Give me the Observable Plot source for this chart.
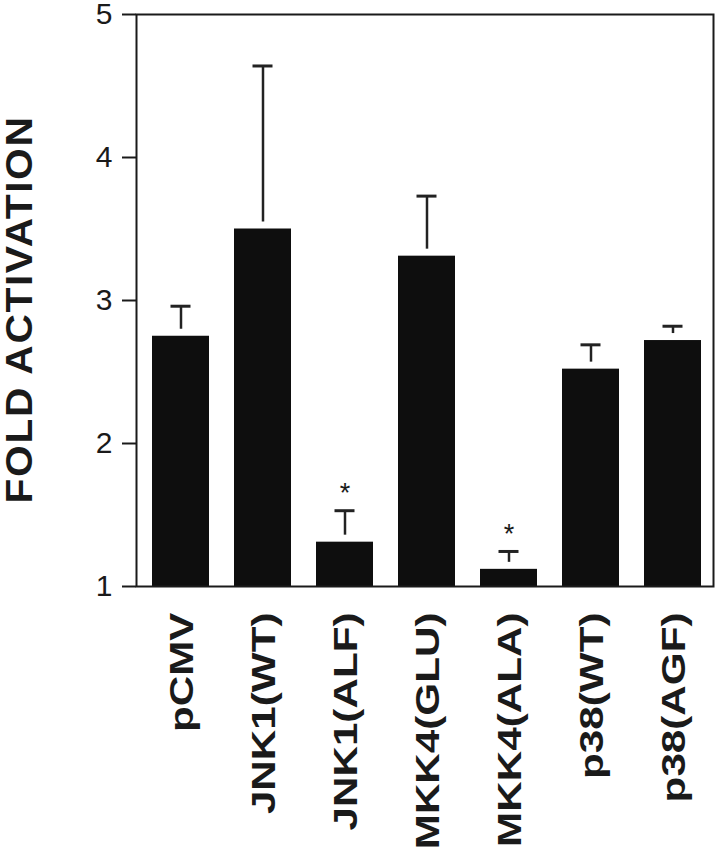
<!DOCTYPE html>
<html><head><meta charset="utf-8">
<script src="https://cdn.jsdelivr.net/npm/d3@7"></script>
<script src="https://cdn.jsdelivr.net/npm/@observablehq/plot@0.6"></script>
<style>body{margin:0;background:#fff}</style>
</head><body><div id="chart"></div>
<script>
const categories = ["pCMV", "JNK1(WT)", "JNK1(ALF)", "MKK4(GLU)", "MKK4(ALA)", "p38(WT)", "p38(AGF)"];
const values = [2.75, 3.50, 1.31, 3.31, 1.12, 2.52, 2.72];
const errorTops = [2.96, 4.64, 1.53, 3.73, 1.245, 2.69, 2.82];
const significant = ["JNK1(ALF)", "MKK4(ALA)"];
const yTicks = [1, 2, 3, 4, 5];
const yTitle = "FOLD ACTIVATION";

const rows = categories.map((c, i) => ({name: c, value: values[i], err: errorTops[i], star: significant.includes(c)}));

const chart = Plot.plot({
  width: 716, height: 853,
  marginTop: 14, marginBottom: 267, marginLeft: 136, marginRight: 3,
  style: {fontFamily: "'Liberation Sans', Arial, Helvetica, sans-serif", background: "white", color: "#1a1a1a", overflow: "visible"},
  x: {domain: categories, paddingInner: 0.31, paddingOuter: 0.158, align: 0.577, axis: null},
  y: {domain: [1, 5], axis: null},
  marks: [
    Plot.barY(rows, {x: "name", y1: 1, y2: "value", fill: "#0e0e0e"}),
    Plot.ruleX(rows, {x: "name", y1: "err", y2: "value", stroke: "#222", strokeWidth: 2.5, insetBottom: 7}),
    Plot.tickY(rows, {x: "name", y: "err", stroke: "#222", strokeWidth: 3, insetLeft: 18.5, insetRight: 18.5}),
    Plot.text(rows.filter(d => d.star), {x: "name", y: "err", text: () => "*", fontSize: 27, dy: -17}),
    Plot.frame({stroke: "#1a1a1a", strokeWidth: 2}),
    Plot.axisY(yTicks, {tickSize: 14, tickPadding: 10, fontSize: 30, strokeWidth: 2, tickFormat: d => String(d), label: null}),
    Plot.text(categories, {x: d => d, frameAnchor: "bottom", text: d => d, rotate: -90, textAnchor: "end", lineAnchor: "middle", fontSize: 33.5, fontWeight: "bold", dy: 26, dx: 1.5}),
    Plot.text([yTitle], {frameAnchor: "left", text: d => d, rotate: -90, textAnchor: "middle", lineAnchor: "middle", fontSize: 37, fontWeight: "bold", dx: -116.5, dy: 9})
  ]
});

// stretch glyphs along the reading direction, as in the scanned figure
d3.select(chart).selectAll("text").each(function () {
  const t = this.textContent;
  const tr = this.getAttribute("transform") || "";
  if (categories.includes(t)) this.setAttribute("transform", tr + " scale(1.26,1)");
  else if (t === yTitle) {
    this.setAttribute("transform", tr + " scale(1.1,1)");
    this.style.letterSpacing = "1.5px";
  }
});

document.getElementById("chart").appendChild(chart);
</script>
</body></html>
